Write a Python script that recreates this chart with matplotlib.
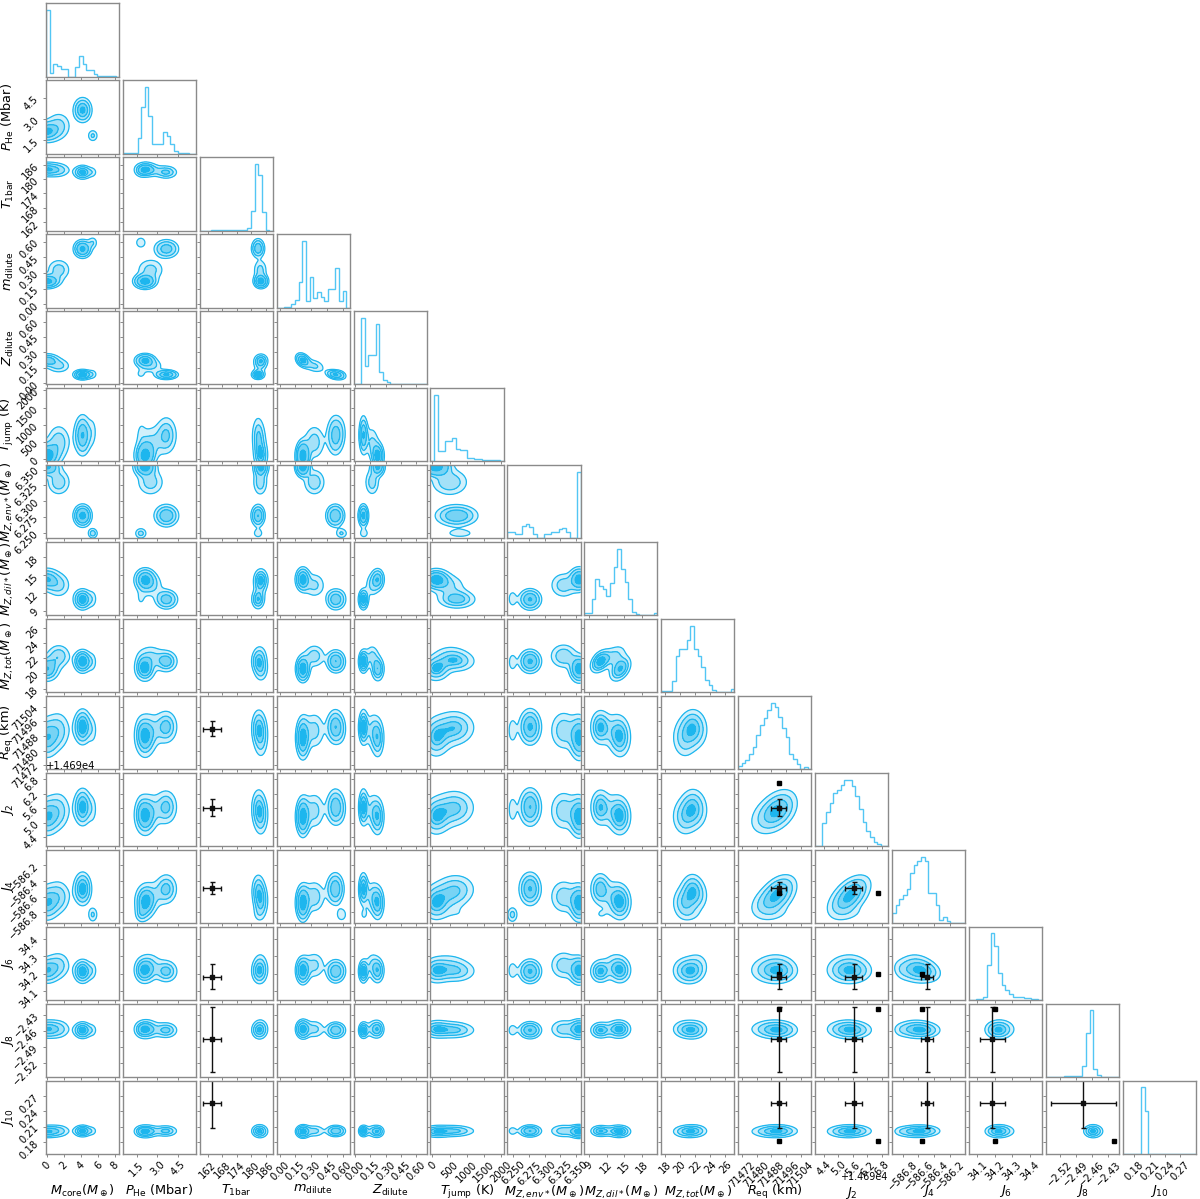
import numpy as np
import matplotlib.pyplot as plt
from matplotlib.colors import to_rgba
from matplotlib.ticker import FixedLocator, NullLocator, NullFormatter

# --- parameter names, plotting ranges and ticks ---
labels = [r'$M_{\rm core}(M_\oplus)$', r'$P_{\rm He}$ (Mbar)', r'$T_{\rm 1bar}$',
          r'$m_{\rm dilute}$', r'$Z_{\rm dilute}$', r'$T_{\rm jump}$ (K)',
          r'$M_{Z,env*}(M_\oplus)$', r'$M_{Z,dil*}(M_\oplus)$', r'$M_{Z,tot}(M_\oplus)$',
          r'$R_{\rm eq}$ (km)', r'$J_2$', r'$J_4$', r'$J_6$', r'$J_8$', r'$J_{10}$']
ranges = [(-0.1, 8.5), (0.5, 5.8), (158.6, 189.0), (-0.03, 0.67), (-0.01, 0.70),
          (-58, 2067), (6.241, 6.357), (8.2, 20.6), (17.5, 27.2), (71469.8, 71509.9),
          (14694.03, 14697.06), (-586.94, -586.0), (34.05, 34.47), (-2.546, -2.41),
          (0.157, 0.300)]
ticks = [[0, 2, 4, 6, 8], [1.5, 3.0, 4.5], [162, 168, 174, 180, 186],
         [0.0, 0.15, 0.30, 0.45, 0.60], [0.0, 0.15, 0.30, 0.45, 0.60],
         [0, 500, 1000, 1500, 2000], [6.250, 6.275, 6.300, 6.325, 6.350],
         [9, 12, 15, 18], [18, 20, 22, 24, 26], [71472, 71480, 71488, 71496, 71504],
         [14694.4, 14695.0, 14695.6, 14696.2, 14696.8], [-586.8, -586.6, -586.4, -586.2],
         [34.1, 34.2, 34.3, 34.4], [-2.52, -2.49, -2.46, -2.43], [0.18, 0.21, 0.24, 0.27]]
j2_offset_text = '+1.469e4'

# --- 1D marginal histograms (20 bins over the range, relative heights) ---
h_mcore = [100, 6, 19, 16, 11, 11, 0, 0, 15, 31, 19, 10, 10, 4, 0.5, 0.3, 0.3, 0.3, 0.3, 0]
h_phe = [0.5, 1.5, 1, 0.5, 24, 70, 100, 56, 14, 15, 15, 32, 27, 15, 4, 1, 1, 0.5, 0, 0]
h_t1bar = [0, 0, 0, 1, 0.5, 0.5, 0.5, 0.5, 0.5, 0.5, 0.5, 0.5, 0.5, 4, 30, 100, 84, 28, 0.5, 0]
h_mdil = [0, 0, 1, 1, 5, 11, 38, 100, 10, 46, 14, 24, 16, 10, 28, 28, 59, 10, 25, 0]
h_zdil = [0, 0, 100, 27, 44, 44, 91, 19, 7, 3, 1, 1, 0.5, 0.5, 0.3, 0.3, 0.2, 0.2, 0, 0]
h_tjump = [0, 100, 15, 15, 30, 30, 35, 19, 17, 17, 5, 5, 3, 3, 1.5, 1.5, 1.5, 1.5, 2.5, 0]
h_mzenv = [9, 9, 6, 6, 19, 21, 17, 6, 1, 1, 7, 7, 10, 10, 14, 16, 10, 1, 1, 100]
h_mzdil = [4, 4, 25, 55, 44, 40, 29, 48, 72, 100, 70, 50, 25, 5, 2.5, 0, 0, 0, 0, 3]
h_mztot = [2, 2, 2, 17, 55, 65, 65, 79, 100, 65, 55, 38, 18, 11, 3, 0, 0, 0, 0, 5]
h_req = [5, 9, 14, 23, 34, 52, 67, 77, 89, 100, 93, 78, 62, 48, 23, 16, 8, 1, 4, 1]
h_j2 = [0, 0, 35, 52, 65, 80, 85, 92, 99, 100, 91, 75, 56, 37, 23, 14, 7, 3, 0, 0]
h_j4 = [16, 28, 37, 42, 51, 76, 88, 94, 100, 94, 46, 46, 27, 5, 10, 3, 0, 0, 0, 0]
h_j6 = [0, 0, 2, 2, 4, 53, 100, 81, 41, 23, 15, 9, 5, 5, 5, 2.5, 2.5, 1, 1, 0.5]
h_j8 = [0, 0, 0, 0, 0, 1.5, 1.5, 1.5, 1.5, 1.5, 16, 66, 100, 12, 3, 0, 0, 0, 0, 0]
h_j10 = [0, 0, 0, 0, 0, 100, 64, 0, 0, 0, 0, 0, 0, 0, 0, 0, 0, 0, 0, 0]
hists = [h_mcore, h_phe, h_t1bar, h_mdil, h_zdil, h_tjump, h_mzenv, h_mzdil, h_mztot,
         h_req, h_j2, h_j4, h_j6, h_j8, h_j10]

# --- posterior modes (centre, width per parameter) ---
mode_weight = [0.40, 0.23, 0.33, 0.04]
mode_mean = [
    [0.0, 2.10, 184.0, 0.220, 0.225, 100, 6.355, 14.3, 20.6, 71487, 14695.25, -586.68, 34.220, -2.457, 0.201],
    [1.4, 2.50, 183.7, 0.330, 0.170, 500, 6.330, 13.3, 22.3, 71491, 14695.50, -586.60, 34.250, -2.457, 0.202],
    [4.2, 3.65, 182.8, 0.530, 0.085, 700, 6.277, 10.9, 21.6, 71493, 14695.65, -586.50, 34.215, -2.459, 0.202],
    [5.4, 1.80, 182.8, 0.590, 0.090, 800, 6.249, 11.0, 21.5, 71491, 14695.55, -586.83, 34.220, -2.459, 0.202],
]
mode_sigma = [
    [0.80, 0.40, 1.6, 0.035, 0.035, 220, 0.008, 1.0, 0.9, 6.0, 0.42, 0.12, 0.040, 0.009, 0.0065],
    [0.80, 0.55, 1.7, 0.060, 0.040, 300, 0.012, 1.2, 0.9, 6.0, 0.45, 0.12, 0.045, 0.010, 0.0070],
    [0.55, 0.45, 1.5, 0.045, 0.025, 320, 0.009, 0.9, 0.8, 5.0, 0.40, 0.11, 0.035, 0.008, 0.0060],
    [0.35, 0.25, 1.4, 0.035, 0.030, 300, 0.005, 1.0, 0.9, 5.0, 0.40, 0.06, 0.035, 0.008, 0.0060],
]
# correlation between parameter pairs (row index, column index)
pair_corr = {(4, 3): -0.3, (8, 7): 0.4, (10, 9): 0.3, (11, 9): 0.35, (11, 10): 0.4,
             (12, 11): -0.2}

# --- observed values with errors, and a second reference model (squares) ---
obs_value = [None, None, 163.6, None, None, None, None, None, None,
             71492.0, 14695.63, -586.49, 34.185, -2.476, 0.256]
obs_error = [None, None, 3.8, None, None, None, None, None, None,
             4.0, 0.35, 0.08, 0.072, 0.06, 0.048]
ref_value = [None] * 9 + [71492.0, 14696.65, -586.555, 34.20, -2.420, 0.183]

color = '#1db6ee'
hist_color = '#52c6f4'
n = len(labels)
fig, axes = plt.subplots(n, n, figsize=(12, 11.99), dpi=100)
fig.subplots_adjust(left=0.0383, right=0.9965, bottom=0.0375, top=0.9972,
                    wspace=0.05, hspace=0.05)

levels = 1.0 - np.exp(-0.5 * np.arange(0.5, 2.1, 0.5) ** 2)
rgba = to_rgba(color)
fill_colors = [(1, 1, 1, 0)] + [(rgba[0], rgba[1], rgba[2], a) for a in (0.2, 0.4, 0.6)] + [rgba]


def density(i, j, npts=90):
    xs = np.linspace(*ranges[j], npts)
    ys = np.linspace(*ranges[i], npts)
    X, Y = np.meshgrid(xs, ys)
    r = pair_corr.get((i, j), 0.0)
    d = np.zeros_like(X)
    for w, mu, sg in zip(mode_weight, mode_mean, mode_sigma):
        dx = (X - mu[j]) / sg[j]
        dy = (Y - mu[i]) / sg[i]
        q = (dx ** 2 - 2 * r * dx * dy + dy ** 2) / (1 - r ** 2)
        d += w * np.exp(-0.5 * q) / (sg[i] * sg[j] * np.sqrt(1 - r ** 2))
    return xs, ys, d


def contour_levels(d):
    flat = np.sort(d.ravel())[::-1]
    cdf = np.cumsum(flat)
    cdf /= cdf[-1]
    v = np.empty(len(levels))
    for k, lv in enumerate(levels):
        v[k] = flat[cdf <= lv][-1]
    v.sort()
    return v


def style(ax, i, j):
    for sp in ax.spines.values():
        sp.set_color('#8a8a8a')
        sp.set_linewidth(1.0)
    ax.tick_params(length=2.5, width=0.7, color='#8a8a8a', labelsize=7.2, pad=1.5)
    ax.xaxis.set_major_locator(FixedLocator(ticks[j]))
    ax.set_xlim(ranges[j])
    if i == n - 1:
        for lab in ax.get_xticklabels():
            lab.set_rotation(45)
        ax.set_xlabel(labels[j], fontsize=9.3)
        ax.xaxis.set_label_coords(0.5, -0.40)
        if j == 10:
            # offset sits between the tick labels and the axis label, as in the original
            ax.xaxis.get_offset_text().set_visible(False)
            ax.text(1.0, -0.245, j2_offset_text, transform=ax.transAxes,
                    ha='right', va='top', fontsize=6.9)
            ax.xaxis.set_label_coords(0.5, -0.42)
    else:
        ax.xaxis.set_major_formatter(NullFormatter())


for i in range(n):
    for j in range(n):
        ax = axes[i, j]
        if j > i:
            ax.set_visible(False)
            continue
        if i == j:
            edges = np.linspace(*ranges[i], len(hists[i]) + 1)
            ax.stairs(hists[i], edges, color=hist_color, linewidth=1.0)
            ax.set_ylim(0, 1.1 * max(hists[i]))
            ax.yaxis.set_major_locator(NullLocator())
            style(ax, i, j)
            continue
        xs, ys, d = density(i, j)
        v = contour_levels(d)
        ax.contourf(xs, ys, d, np.concatenate([[0], v, [d.max() * (1 + 1e-4)]]),
                    colors=fill_colors, antialiased=False)
        ax.contour(xs, ys, d, v, colors=color, linewidths=0.9)
        if obs_value[i] is not None and obs_value[j] is not None:
            ax.errorbar(obs_value[j], obs_value[i], xerr=obs_error[j], yerr=obs_error[i],
                        fmt='s', color='#111111', ms=3, capsize=1.8, elinewidth=1.0,
                        capthick=1.0)
        if ref_value[i] is not None and ref_value[j] is not None:
            ax.plot(ref_value[j], ref_value[i], 's', color='k', ms=3)
        ax.set_ylim(ranges[i])
        ax.yaxis.set_major_locator(FixedLocator(ticks[i]))
        style(ax, i, j)
        if j == 0:
            for lab in ax.get_yticklabels():
                lab.set_rotation(45)
            ax.yaxis.get_offset_text().set_fontsize(7.2)
            ax.set_ylabel(labels[i], fontsize=9.3)
            ax.yaxis.set_label_coords(-0.41, 0.5)
        else:
            ax.yaxis.set_major_formatter(NullFormatter())

fig.savefig('out.png', dpi=100)
